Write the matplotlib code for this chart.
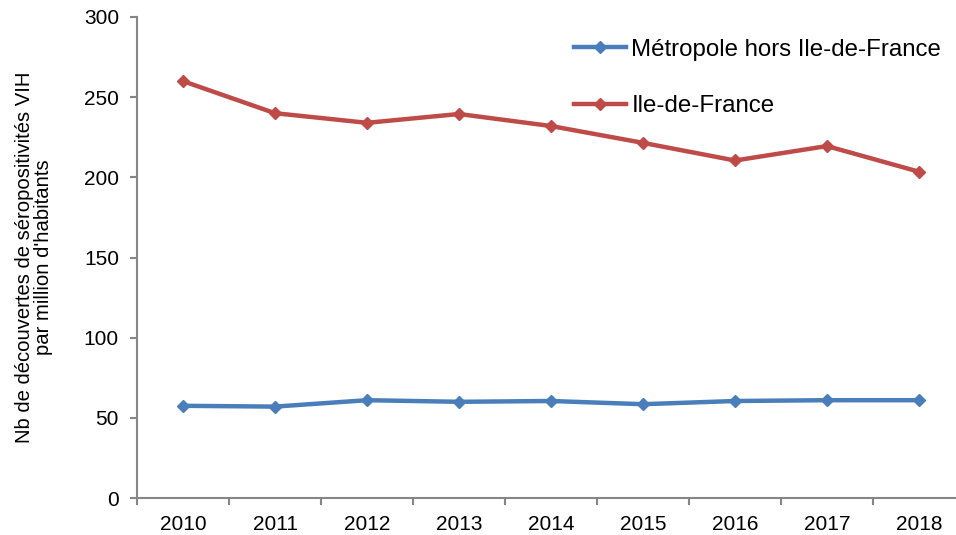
import numpy as np
import matplotlib.pyplot as plt

plt.rcParams['font.family'] = ['Liberation Sans', 'DejaVu Sans']

years = ['2010', '2011', '2012', '2013', '2014', '2015', '2016', '2017', '2018']
metropole = [57.5, 57, 61, 60, 60.5, 58.5, 60.5, 61, 61]
idf = [260, 240, 234, 239.5, 232, 221.5, 210.5, 219.5, 203.5]

blue = '#4A7EBB'
red = '#BE4B48'
grey = '#868686'

fig = plt.figure(figsize=(9.56, 5.35), dpi=100)
ax = fig.add_axes([137 / 956, 37 / 535, 828 / 956, 481 / 535])

x = np.arange(len(years))
ax.plot(x, metropole, color=blue, lw=3.2, marker='D', ms=6.5, label='Métropole hors Ile-de-France')
ax.plot(x, idf, color=red, lw=3.2, marker='D', ms=6.5, label='Ile-de-France')

ax.set_xlim(-0.5, len(years) - 0.5)
ax.set_ylim(0, 300)
ax.set_yticks(range(0, 301, 50))
ax.set_xticks(x)
ax.set_xticklabels(years)
ax.set_xticks(np.arange(-0.5, len(years)), minor=True)
ax.tick_params(axis='x', which='major', length=0, pad=12, labelsize=15)
ax.tick_params(axis='x', which='minor', length=5, color=grey, width=1.5)
ax.tick_params(axis='y', length=5, color=grey, width=1.5, pad=8, labelsize=15)

for s in ['top', 'right']:
    ax.spines[s].set_visible(False)
for s in ['left', 'bottom']:
    ax.spines[s].set_color(grey)
    ax.spines[s].set_linewidth(1.5)

ax.set_ylabel("Nb de découvertes de séropositivités VIH\npar million d'habitants", fontsize=14.6,
              labelpad=22, linespacing=1.0)

ax.legend(loc='upper left', bbox_to_anchor=(427 / 828, 0.975), frameon=False, fontsize=17.3,
          handlelength=2.2, handletextpad=0.2, labelspacing=1.45, borderaxespad=0)

fig.savefig('out.png', dpi=100)
